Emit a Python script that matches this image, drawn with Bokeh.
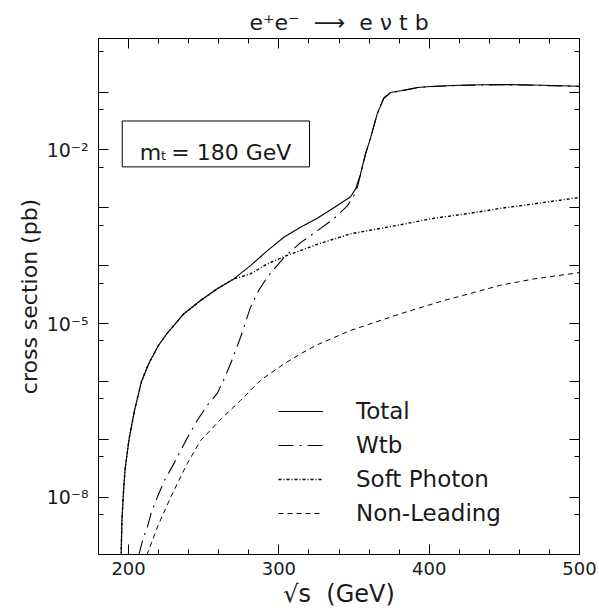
from bokeh.plotting import figure
from bokeh.models import (FixedTicker, CustomJSTickFormatter, LinearAxis, LogAxis,
                          Legend, LegendItem, BoxAnnotation, Label)
from bokeh.embed import file_html
from bokeh.resources import INLINE

# ---------------- data ----------------
total_x = [195.0, 195.6, 196.4, 197.6, 200.3, 204.0, 208.6, 213.3, 219.9, 225.7,
           231.2, 236.8, 247.9, 259.0, 270.0, 281.1, 292.2, 303.3, 314.4, 325.5,
           336.6, 347.7, 351.0, 354.3, 357.6, 361.0, 365.4, 369.8, 374.3, 380.9,
           392.0, 403.1, 425.3, 447.5, 469.7, 500.0]
total_y = [9e-10, 4.0e-9, 1.0e-8, 2.9e-8, 1.0e-7, 3.2e-7, 1.0e-6, 2.0e-6, 4.2e-6, 6.8e-6,
           1.0e-5, 1.48e-5, 2.5e-5, 4.0e-5, 5.9e-5, 1.0e-4, 1.8e-4, 3.1e-4, 4.6e-4, 6.6e-4,
           1.0e-3, 1.55e-3, 2.1e-3, 3.8e-3, 8.5e-3, 1.62e-2, 4.2e-2, 7.9e-2, 0.098, 0.105,
           0.12, 0.126, 0.132, 0.135, 0.132, 0.126]

wtb_x = [206.8, 209.3, 212.4, 215.3, 219.1, 223.9, 230.1, 237.9, 245.7, 252.5,
         259.0, 263.2, 267.8, 274.5, 281.1, 286.5, 292.2, 303.3, 314.4, 325.5,
         336.6, 345.4, 349.9, 352.1, 354.3, 357.6, 361.0, 365.4, 369.8, 374.3,
         380.9, 392.0, 403.1, 425.3, 447.5, 469.7, 500.0]
wtb_y = [1.0e-9, 1.78e-9, 3.0e-9, 5.6e-9, 1.0e-8, 1.95e-8, 3.8e-8, 9.3e-8, 2.14e-7, 3.9e-7,
         6.2e-7, 1.05e-6, 2.0e-6, 5.8e-6, 1.9e-5, 3.7e-5, 6.3e-5, 1.38e-4, 2.5e-4, 4.0e-4,
         6.5e-4, 1.07e-3, 1.62e-3, 2.24e-3, 3.7e-3, 8.4e-3, 1.6e-2, 4.15e-2, 7.8e-2, 0.097,
         0.104, 0.119, 0.125, 0.131, 0.134, 0.131, 0.125]

soft_x = [195.0, 195.6, 196.4, 197.6, 200.3, 204.0, 208.6, 213.3, 219.9, 225.7,
          231.2, 236.8, 247.9, 259.0, 270.0, 281.1, 292.2, 303.3, 325.5, 347.7,
          380.9, 403.1, 425.3, 447.5, 469.7, 500.0]
soft_y = [9e-10, 4.0e-9, 1.0e-8, 2.9e-8, 1.0e-7, 3.2e-7, 1.0e-6, 2.0e-6, 4.2e-6, 6.8e-6,
          1.0e-5, 1.48e-5, 2.5e-5, 4.0e-5, 5.9e-5, 7.2e-5, 1.07e-4, 1.43e-4, 2.34e-4, 3.55e-4,
          5.1e-4, 6.6e-4, 7.9e-4, 9.8e-4, 1.17e-3, 1.51e-3]

nonlead_x = [212.2, 219.1, 228.0, 239.0, 247.9, 261.2, 274.5, 287.8, 303.3, 314.4,
             325.5, 347.7, 380.9, 409.8, 425.3, 447.5, 469.7, 500.0]
nonlead_y = [1.0e-9, 3.0e-9, 1.0e-8, 3.8e-8, 9.5e-8, 2.2e-7, 4.7e-7, 1.05e-6, 2.0e-6, 3.0e-6,
             4.3e-6, 7.6e-6, 1.48e-5, 2.5e-5, 3.2e-5, 4.6e-5, 5.9e-5, 7.6e-5]

series_names = ["Total", "Wtb", "Soft Photon", "Non-Leading"]

x_major = [200, 300, 400, 500]
x_minor = [180, 220, 240, 260, 280, 320, 340, 360, 380, 420, 440, 460, 480]
y_major = [1e-9, 1e-8, 1e-7, 1e-6, 1e-5, 1e-4, 1e-3, 1e-2, 1e-1]
y_minor = [5e-9, 5e-8, 5e-7, 5e-6, 5e-5, 5e-4, 5e-3, 5e-2, 5e-1]
y_labelled_exponents = [-2, -5, -8]

FONT = "DejaVu Sans"
TXT = "#1a1a1a"
NB = "\u00a0"

p = figure(width=599, height=612, x_range=(180, 500), y_range=(10 ** -8.99, 10 ** -0.075),
           y_axis_type="log", output_backend="svg", toolbar_location=None,
           min_border_left=98, min_border_right=20, min_border_top=38, min_border_bottom=58)
p.background_fill_color = "white"
p.border_fill_color = "white"
p.outline_line_color = "black"
p.xgrid.visible = False
p.ygrid.visible = False

p.title.text = "e\u207ae\u207b" + NB * 2 + "\u27f6" + NB * 2 + "e" + NB + "\u03bd" + NB + "t" + NB + "b"
p.title.align = "center"
p.title.text_font = FONT
p.title.text_font_size = "22px"
p.title.text_font_style = "normal"
p.title.text_color = TXT
p.title.standoff = 8

xt = FixedTicker(ticks=x_major, minor_ticks=x_minor)
yt = FixedTicker(ticks=y_major, minor_ticks=y_minor)

yfmt = CustomJSTickFormatter(args=dict(labelled=y_labelled_exponents), code="""
const e = Math.round(Math.log10(tick));
if (!labelled.includes(e)) return "";
const m = {"-":"\u207b","0":"\u2070","1":"\u00b9","2":"\u00b2","3":"\u00b3","4":"\u2074",
           "5":"\u2075","6":"\u2076","7":"\u2077","8":"\u2078","9":"\u2079"};
return "10" + String(e).split("").map(c => m[c]).join("");
""")
blank = CustomJSTickFormatter(code="return '';")

def style_axis(ax):
    ax.axis_line_color = "black"
    ax.major_tick_in = 10
    ax.major_tick_out = 0
    ax.minor_tick_in = 5
    ax.minor_tick_out = 0
    ax.major_tick_line_color = "black"
    ax.minor_tick_line_color = "black"
    ax.major_label_text_font = FONT
    ax.major_label_text_color = TXT
    ax.axis_label_text_font = FONT
    ax.axis_label_text_color = TXT
    ax.axis_label_text_font_style = "normal"

xa = p.xaxis[0]
xa.ticker = xt
style_axis(xa)
xa.major_label_text_font_size = "18px"
xa.major_label_standoff = 7
xa.axis_label = "\u221as" + NB * 2 + "(GeV)"
xa.axis_label_text_font_size = "24px"
xa.axis_label_standoff = 2

ya = p.yaxis[0]
ya.ticker = yt
ya.formatter = yfmt
style_axis(ya)
ya.major_label_text_font_size = "19px"
ya.major_label_standoff = 10
ya.axis_label = "cross section (pb)"
ya.axis_label_text_font_size = "22px"
ya.axis_label_standoff = 2

top = LinearAxis(ticker=xt, formatter=blank)
style_axis(top)
top.major_label_text_font_size = "1px"
top.major_label_standoff = 0
p.add_layout(top, "above")

right = LogAxis(ticker=yt, formatter=blank)
style_axis(right)
right.major_label_text_font_size = "1px"
right.major_label_standoff = 0
p.add_layout(right, "right")

r_total = p.line(total_x, total_y, line_color="black", line_width=1.1)
r_wtb = p.line(wtb_x, wtb_y, line_color="black", line_width=1.1, line_dash="15 6 2 6")
r_soft = p.line(soft_x, soft_y, line_color="black", line_width=1.4, line_dash="3 2 1 2")
r_nl = p.line(nonlead_x, nonlead_y, line_color="black", line_width=1.0, line_dash="5 4")

legend = Legend(items=[LegendItem(label=n, renderers=[r]) for n, r in
                       zip(series_names, [r_total, r_wtb, r_soft, r_nl])],
                location=(180, 28))
legend.padding = 0
legend.margin = 0
legend.spacing = 8
legend.glyph_width = 45
legend.glyph_height = 26
legend.label_height = 26
legend.label_standoff = 33
legend.label_text_font = FONT
legend.label_text_font_size = "23px"
legend.label_text_color = TXT
legend.border_line_color = None
legend.background_fill_alpha = 0
p.add_layout(legend, "center")

# m_t box
p.add_layout(BoxAnnotation(left=195.8, right=320.4, bottom=10 ** -2.293, top=10 ** -1.5,
                           fill_alpha=0, line_color="black", line_alpha=1, line_width=1))
p.add_layout(Label(x=207.5, y=10 ** -2.047, text="m", text_font=FONT, text_font_size="22px",
                   text_color=TXT, text_baseline="alphabetic"))
p.add_layout(Label(x=221.6, y=10 ** -2.09, text="t", text_font=FONT, text_font_size="13px",
                   text_color=TXT, text_baseline="alphabetic"))
p.add_layout(Label(x=228.4, y=10 ** -2.047, text="= 180 GeV", text_font=FONT,
                   text_font_size="22px", text_color=TXT, text_baseline="alphabetic"))

open("out.html", "w").write(file_html(p, INLINE))
